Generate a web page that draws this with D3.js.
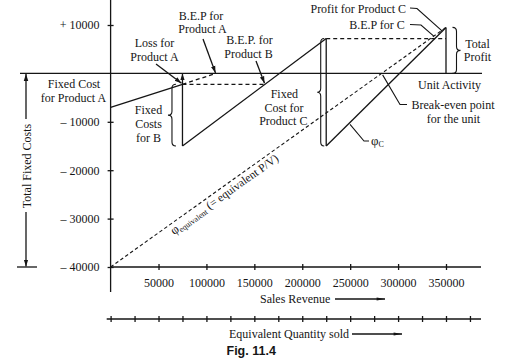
<!DOCTYPE html>
<html><head><meta charset="utf-8">
<script src="https://cdn.jsdelivr.net/npm/d3@7"></script>
<style>
html,body{margin:0;padding:0;background:#fff;}
svg{display:block;font-family:"Liberation Serif","Times New Roman",serif;}
</style></head><body>
<svg id="chart" width="518" height="361"></svg>
<script>
// ---- data ----
const salesTicks = [50000, 100000, 150000, 200000, 250000, 300000, 350000];
const profitTicks = [10000, -10000, -20000, -30000, -40000];
const profitTickLabels = ["+ 10000", "\u2013 10000", "\u2013 20000", "\u2013 30000", "\u2013 40000"];
const qtyTicks = [0, 25000, 50000, 75000, 100000, 125000, 150000, 175000, 200000, 225000, 250000, 275000, 300000, 325000, 350000, 375000];
const productA = [[0, -7000], [75000, -2250]];
const productABep = [[75000, -2250], [110000, 0]];
const productB = [[75000, -15000], [225000, 7200]];
const productC = [[225000, -15000], [350000, 9500]];
const equivalentLine = [[0, -40000], [350000, 9500]];
const drops = [[225000, 7200, -15000], [350000, 9500, 0]];
const lossA = [75000, -15000, 0];

// ---- setup ----
const svg = d3.select("#chart");
const ink = "#151515";
const x = d3.scaleLinear().domain([0, 350000]).range([110.6, 446]);
const y = d3.scaleLinear().domain([-40000, 10000]).range([267, 25]);
const line = d3.line().x(d => x(d[0])).y(d => y(d[1]));

const defs = svg.append("defs");
defs.append("marker").attr("id", "ah").attr("viewBox", "0 0 10 10")
  .attr("refX", 10).attr("refY", 5).attr("markerWidth", 7).attr("markerHeight", 7)
  .attr("markerUnits", "userSpaceOnUse").attr("orient", "auto")
  .append("path").attr("d", "M0,1.8 L10,5 L0,8.2 z").attr("fill", ink);
defs.append("marker").attr("id", "ahLong").attr("viewBox", "0 0 14 10")
  .attr("refX", 14).attr("refY", 5).attr("markerWidth", 11).attr("markerHeight", 6)
  .attr("markerUnits", "userSpaceOnUse").attr("orient", "auto")
  .append("path").attr("d", "M0,2.5 L14,5 L0,7.5 z").attr("fill", ink);

const g = svg.append("g").attr("fill", "none").attr("stroke", ink).attr("stroke-width", 1.3);

function seg(x1, y1, x2, y2, opts = {}) {
  const l = g.append("line").attr("x1", x1).attr("y1", y1).attr("x2", x2).attr("y2", y2);
  if (opts.dash) l.attr("stroke-dasharray", opts.dash);
  if (opts.marker) l.attr("marker-end", `url(#${opts.marker})`);
  if (opts.w) l.attr("stroke-width", opts.w);
  return l;
}
function poly(pts, opts = {}) {
  const p = g.append("path").attr("d", "M" + pts.map(p => p.join(",")).join("L"));
  if (opts.marker) p.attr("marker-end", `url(#${opts.marker})`);
  if (opts.w) p.attr("stroke-width", opts.w);
  return p;
}
function brace(xs, y1, y2, dir, w) {
  const ym = (y1 + y2) / 2, r = 4;
  const d = `M${xs - dir * w / 2},${y1} Q${xs},${y1} ${xs},${y1 + r} L${xs},${ym - r} Q${xs},${ym} ${xs + dir * w / 2},${ym} Q${xs},${ym} ${xs},${ym + r} L${xs},${y2 - r} Q${xs},${y2} ${xs - dir * w / 2},${y2}`;
  g.append("path").attr("d", d).attr("stroke-width", 1.1);
}
function txt(s, tx, ty, anchor = "middle", size = 12) {
  return svg.append("text").attr("x", tx).attr("y", ty).attr("text-anchor", anchor)
    .attr("font-size", size).attr("fill", ink).text(s);
}

// ---- axes frame ----
seg(x(0), 0, x(0), 292);            // y axis
seg(x(0), y(-40000), 481, y(-40000)); // sales axis
seg(20, y(0), 482, y(0));           // zero line (unit activity)
seg(106.7, 319, 481, 319);          // equivalent quantity axis

const xAxis = d3.axisBottom(x).tickValues(salesTicks).tickSize(3).tickPadding(8.5).tickFormat(d => d);
const xa = svg.append("g").attr("transform", `translate(0,${y(-40000)})`).call(xAxis);
const yAxis = d3.axisLeft(y).tickValues(profitTicks).tickSize(3).tickPadding(8)
  .tickFormat((d, i) => profitTickLabels[i]);
const ya = svg.append("g").attr("transform", `translate(${x(0)},0)`).call(yAxis);
const qAxis = d3.axisBottom(x).tickValues(qtyTicks).tickSize(3).tickFormat("");
const qa = svg.append("g").attr("transform", "translate(0,319)").call(qAxis);
[xa, ya, qa].forEach(a => {
  a.select(".domain").remove();
  a.attr("font-family", null).attr("font-size", 12);
  a.selectAll("text").attr("fill", ink);
  a.selectAll(".tick line").attr("stroke", ink).attr("stroke-width", 1.3);
});
xa.selectAll(".tick line").attr("y1", -3).attr("y2", 3);
qa.selectAll(".tick line").attr("y1", -3).attr("y2", 3);
ya.selectAll(".tick line").attr("x1", -3).attr("x2", 3);

// ---- product lines ----
g.append("path").attr("d", line(productA));
g.append("path").attr("d", line(productABep)).attr("stroke-dasharray", "4,3");
g.append("path").attr("d", line(productB));
g.append("path").attr("d", line(productC));
g.append("path").attr("d", line(equivalentLine)).attr("stroke-dasharray", "3.5,2.5").attr("stroke-width", 1.1);

// vertical drops
drops.forEach(d => seg(x(d[0]), y(d[1]), x(d[0]), y(d[2])));
seg(x(lossA[0]), y(lossA[1]), x(lossA[0]), y(lossA[2]), { marker: "ah" });

// dashed base lines
const bSlope = (productB[1][1] - productB[0][1]) / (productB[1][0] - productB[0][0]);
const bCross = productB[0][0] + (productA[1][1] - productB[0][1]) / bSlope;
seg(x(productA[1][0]), y(productA[1][1]), x(bCross), y(productA[1][1]), { dash: "4,3" });
seg(x(productC[0][0]), y(productB[1][1]), x(productC[1][0]), y(productB[1][1]), { dash: "4,3" });
const cSlope = (productC[1][1] - productC[0][1]) / (productC[1][0] - productC[0][0]);
const cCross = productC[0][0] + (productB[1][1] - productC[0][1]) / cSlope;
const eSlope = (equivalentLine[1][1] - equivalentLine[0][1]) / (equivalentLine[1][0] - equivalentLine[0][0]);
const eCross = -equivalentLine[0][1] / eSlope;

// braces
brace(x(75000) - 10.5, y(productA[1][1]), y(-15000), -1, 8);
brace(x(225000) - 5.5, y(productB[1][1]), y(-15000), -1, 7);
brace(x(350000) + 10.5, y(productC[1][1]), y(0), 1, 8);

// ---- left annotation ----
seg(26, 119, 26, y(0) + 0.5, { marker: "ah" });
seg(26, 212, 26, y(-40000) - 0.5, { marker: "ah" });
seg(17, y(-40000), 37, y(-40000));
svg.append("text").attr("transform", "translate(31,166) rotate(-90)")
  .attr("text-anchor", "middle").attr("font-size", 12).attr("fill", ink).text("Total Fixed Costs");

// ---- leaders ----
seg(156, 64, x(75000) - 1, y(productA[1][1]) - 1, { marker: "ah" });
seg(203, 39, x(110000) - 0.5, y(0) - 0.5, { marker: "ah" });
seg(256, 61, x(bCross) - 0.5, y(productA[1][1]) - 1, { marker: "ah" });
poly([[410, 8], [417, 8.5], [x(350000) - 4, y(productC[1][1]) + 3.5]], { w: 1.1 });
poly([[410, 24.5], [421, 25], [x(cCross) - 1, y(productB[1][1]) - 2.5]], { w: 1.1 });
poly([[407, 104.5], [400, 104.5], [x(eCross) + 1, y(0) + 1.5]], { w: 1.1 });
const phiS = 248800, phiV = productC[0][1] + cSlope * (phiS - productC[0][0]);
poly([[369, 141], [364, 141], [x(phiS) + 1, y(phiV) + 1]], { w: 1.1 });

// ---- texts ----
txt("Fixed Cost", 74, 88); txt("for Product A", 73.5, 102);
txt("Loss for", 154.5, 47); txt("Product A", 154.5, 60.5);
txt("B.E.P for", 201, 19.5); txt("Product A", 202.5, 33);
txt("B.E.P. for", 249.5, 44); txt("Product B", 248.5, 57.5);
txt("Fixed", 148.5, 114); txt("Costs", 148.5, 128); txt("for B", 148.5, 141.5);
txt("Fixed", 284.3, 98); txt("Cost for", 284, 111.5); txt("Product C", 283.3, 125);
txt("Profit for Product C", 358.3, 12.5);
txt("B.E.P for C", 377, 29);
txt("Total", 477.5, 47.5); txt("Profit", 477.5, 61);
txt("Unit Activity", 449.5, 88.5);
txt("Break-even point", 453, 108.5); txt("for the unit", 453.5, 122.5);
const phiC = svg.append("text").attr("x", 371).attr("y", 145).attr("font-size", 13).attr("fill", ink);
phiC.append("tspan").text("\u03c6");
phiC.append("tspan").attr("font-size", 8).attr("dy", 2).text("C");

txt("Sales Revenue", 260, 303, "start");
seg(335, 299, 385, 299, { marker: "ahLong" });
txt("Equivalent Quantity sold", 229, 338, "start");
seg(352, 334, 402, 334, { marker: "ahLong" });
svg.append("text").attr("x", 226.5).attr("y", 354.5).attr("font-family", "'Liberation Sans',Arial,sans-serif")
  .attr("font-weight", "bold").attr("font-size", 12.5).attr("fill", ink).text("Fig. 11.4");

// equivalent label along the dashed line
const angle = Math.atan2(y(equivalentLine[1][1]) - y(equivalentLine[0][1]), x(equivalentLine[1][0]) - x(equivalentLine[0][0])) * 180 / Math.PI;
const s0 = 59500, v0 = equivalentLine[0][1] + eSlope * s0;
const eq = svg.append("text").attr("transform", `translate(${x(s0)},${y(v0)}) rotate(${angle})`)
  .attr("fill", ink).attr("font-size", 11);
eq.append("tspan").attr("x", 0).attr("dy", 11).attr("font-size", 13).text("\u03c6");
eq.append("tspan").attr("font-size", 8).attr("dy", 2).text("equivalent");
eq.append("tspan").attr("font-size", 11.5).attr("dy", -2).text(" (= equivalent P/V)");
</script></body></html>
